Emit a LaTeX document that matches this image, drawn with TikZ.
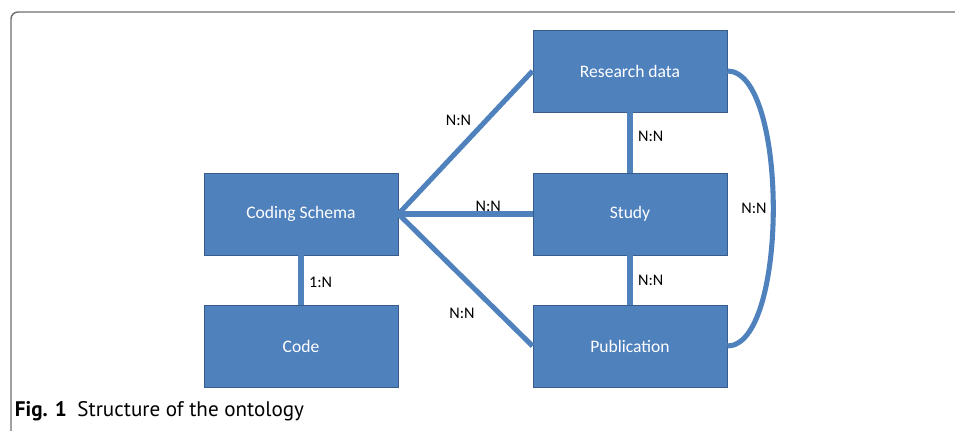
\documentclass[tikz,border=0pt]{standalone}
\usepackage{fontspec}
\setmainfont{Carlito}
\newfontfamily\capfont{PT Sans}
\usepackage{xcolor}
\usetikzlibrary{positioning}
\definecolor{boxblue}{HTML}{4F81BD}
\definecolor{boxedge}{HTML}{385D8A}
\definecolor{framegray}{HTML}{6E6E6E}

\begin{document}
\begin{tikzpicture}[x=0.025cm,y=-0.025cm,
  entity/.style={draw=boxedge,fill=boxblue,text=white,line width=0.6pt,
    minimum width=4.85cm,minimum height=2.05cm,font=\fontsize{12.5}{14}\selectfont},
  link/.style={draw=boxblue,line width=3.6pt},
  card/.style={font=\fontsize{11.5}{13}\selectfont,inner sep=1pt}]
%\draw[help lines, color=gray!30, dashed] (0,0) grid[step=50] (955,431);
\useasboundingbox (0,0) rectangle (955,431);
\draw[framegray,line width=1pt,rounded corners=5pt] (955,12)--(11,12)--(11,431);
\node[entity] (rdata) at (630,71) {Research data};
\node[entity] (study) at (630,214) {Study};
\node[entity] (pub) at (630,346) {Publication};
\node[entity] (schema) at (301,214) {Coding Schema};
\node[entity] (code) at (301,346) {Code};
\draw[link] (schema.east) -- node[card,above=9pt,xshift=-5pt]{N:N} (rdata.west);
\draw[link] (schema.east) -- node[card,pos=0.67,above=-1pt]{N:N} (study.west);
\draw[link] (schema.east) -- node[card,below=17pt,xshift=-2.5pt]{N:N} (pub.west);
\draw[link] (schema) -- node[card,pos=0.55,right=3pt]{1:N} (code);
\draw[link] (rdata) -- node[card,pos=0.4,right=3pt]{N:N} (study);
\draw[link] (study) -- node[card,right=3pt]{N:N} (pub);
\draw[link] (rdata.east) to[out=0,in=0,looseness=0.57] node[card,left=2pt]{N:N} (pub.east);
\node[anchor=west,font=\capfont\fontsize{15}{17}\selectfont] (caption) at (10,411)
  {\textbf{Fig. 1}\enspace Structure of the ontology};
\end{tikzpicture}
\end{document}
